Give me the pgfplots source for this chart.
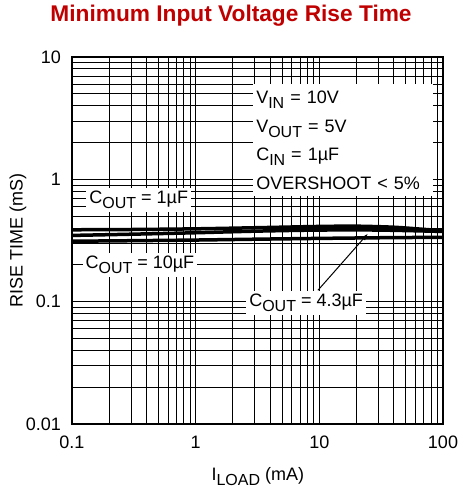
\documentclass[border=0pt]{standalone}
\usepackage{fontspec}
\setmainfont{Liberation Sans}
\usepackage{pgfplots}
\pgfplotsset{compat=1.18}
\usetikzlibrary{arrows.meta}
\definecolor{titlered}{RGB}{192,0,0}
\newcommand{\sub}[1]{\raisebox{-5pt}{\fontsize{16}{16}\selectfont #1}}
\begin{document}
\fontsize{18}{22}\selectfont
\begin{tikzpicture}
\useasboundingbox (-72pt,-71pt) rectangle (389pt,424pt);
\begin{axis}[
  at={(0pt,0pt)}, anchor=south west,
  scale only axis, width=371pt, height=367pt,
  xmode=log, ymode=log,
  xmin=0.1, xmax=100, ymin=0.01, ymax=10,
  xtick={0.1,1,10,100}, xticklabels={0.1,1,10,100},
  ytick={0.01,0.1,1,10}, yticklabels={0.01,0.1,1,10},
  grid=both,
  major grid style={black, line width=1pt},
  minor grid style={black, line width=0.8pt},
  major tick length=0pt, minor tick length=0pt,
  axis line style={line width=2.5pt},
  tick label style={font=\fontsize{18}{20}\selectfont},
  yticklabel style={xshift=-5pt},
  xticklabel style={yshift=-6pt},
  clip=false,
  title={\textbf{Minimum Input Voltage Rise Time}},
  title style={at={(axis description cs:0.4286,1.095)}, anchor=center, text=titlered, font=\fontsize{22.7}{25}\selectfont},
  xlabel={I\sub{LOAD} (mA)},
  xlabel style={at={(axis description cs:0.501,-0.142)}, anchor=center, font=\fontsize{18}{20}\selectfont},
  ylabel={RISE TIME (mS)},
  ylabel style={at={(axis description cs:-0.1456,0.501)}, anchor=center, rotate=0, font=\fontsize{18}{20}\selectfont},
]
% C_OUT = 1uF (top)
\addplot[black, line width=3.5pt, smooth] coordinates {
 (0.1,0.387) (0.3,0.389) (1,0.394) (3,0.402) (10,0.412) (20,0.414) (40,0.406) (70,0.39) (100,0.38)};
% C_OUT = 4.3uF (middle)
\addplot[black, line width=3.5pt, smooth] coordinates {
 (0.1,0.348) (0.3,0.356) (1,0.366) (3,0.377) (10,0.385) (30,0.385) (100,0.375)};
% C_OUT = 10uF (bottom)
\addplot[black, line width=3.5pt, smooth] coordinates {
 (0.1,0.312) (0.3,0.315) (1,0.319) (3,0.324) (10,0.329) (30,0.333) (100,0.336)};

\node[fill=white, anchor=north west, inner xsep=3pt, inner ysep=7pt, text width=174pt, align=left,
      font=\fontsize{18}{28.5}\selectfont]
  at (rel axis cs:0.488,0.927) {V\sub{IN} = 10V\\V\sub{OUT} = 5V\\C\sub{IN} = 1µF\\OVERSHOOT < 5\%};
\node[fill=white, inner sep=3pt, font=\fontsize{18}{20}\selectfont] at (rel axis cs:0.18,0.610) {C\sub{OUT} = 1µF};
\node[fill=white, inner sep=3pt, font=\fontsize{18}{20}\selectfont] at (rel axis cs:0.183,0.433) {C\sub{OUT} = 10µF};
\node[fill=white, inner sep=3pt, font=\fontsize{18}{20}\selectfont] at (rel axis cs:0.631,0.330) {C\sub{OUT} = 4.3µF};
\draw[-{Latex[length=7pt,width=5pt]}, line width=1pt] (axis cs:9.75,0.124) -- (axis cs:24.7,0.36);
\end{axis}
\end{tikzpicture}
\end{document}
